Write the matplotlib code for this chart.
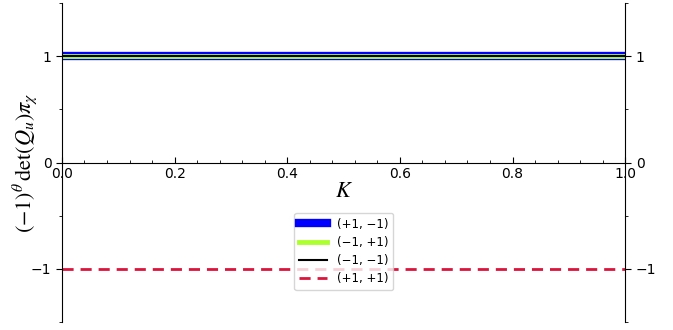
import matplotlib
matplotlib.use("Agg")
from matplotlib import pyplot as plt
from matplotlib.ticker import MultipleLocator

plt.rcParams['mathtext.fontset'] = 'stix'

# data
K = [0.0, 1.0]
labels = ['(+1, \u22121)', '(\u22121, +1)', '(\u22121, \u22121)', '(+1, +1)']
pm = [1, 1]     # (+1, -1)
mp = [1, 1]     # (-1, +1)
mm = [1, 1]     # (-1, -1)
pp = [-1, -1]   # (+1, +1)

fig = plt.figure(figsize=(6.73, 3.30), dpi=100)
ax = fig.add_axes([0.092, 0.024, 0.837, 0.967])

ax.plot(K, pm, color='blue', lw=6, label=labels[0])
ax.plot(K, mp, color='greenyellow', lw=3.5, label=labels[1])
ax.plot(K, mm, color='black', lw=1.5, label=labels[2])
ax.plot(K, pp, color='crimson', lw=2, ls='--', dashes=(4, 2.5), label=labels[3])

ax.set_xlim(0, 1)
ax.set_ylim(-1.5, 1.5)

# spines like a sage plot
ax.spines['top'].set_visible(False)
ax.spines['bottom'].set_position('zero')
ax.yaxis.set_ticks_position('both')
ax.tick_params(axis='y', which='both', direction='out', labelright=True)
ax.tick_params(axis='x', which='both', direction='in')

ax.xaxis.set_major_locator(MultipleLocator(0.2))
ax.xaxis.set_minor_locator(MultipleLocator(0.04))
ax.yaxis.set_major_locator(MultipleLocator(1))
ax.yaxis.set_minor_locator(MultipleLocator(0.5))
ax.tick_params(which='major', length=4)
ax.tick_params(which='minor', length=2)

ax.set_xlabel(r'$K$', fontsize=16, labelpad=0)
ax.set_ylabel(r'$(-1)^{\theta}\,\det(Q_u)\pi_{\chi}$', fontsize=16, va='center')
ax.yaxis.set_label_coords(-0.066, 0.5)

ax.legend(loc='lower center', bbox_to_anchor=(0.5, 0.1), borderaxespad=0,
          fontsize=8.5, handlelength=2.4, labelspacing=0.45)

fig.savefig('out.png', dpi=100)
